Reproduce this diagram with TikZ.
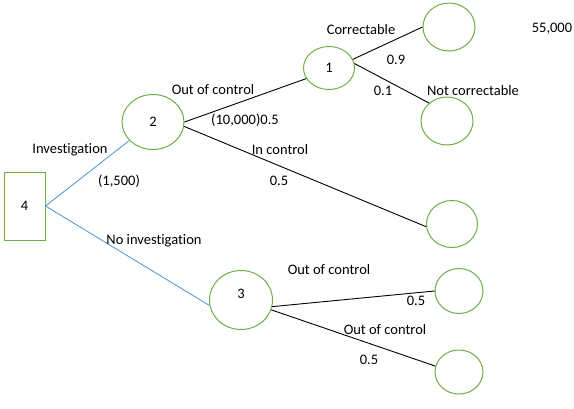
\documentclass[tikz,border=0pt]{standalone}
\usepackage{fontspec}
\setmainfont{Carlito}[Ligatures={NoCommon}]
\usetikzlibrary{shapes.geometric}
\definecolor{officegreen}{RGB}{112,173,71}
\definecolor{officeblue}{RGB}{91,155,213}
\tikzset{
    % Le style pour le noeud de decision (le rectangle)
    decision_node/.style={
        draw=officegreen,
        rectangle,
        line width=1pt,
        inner sep=0pt
    },
    % Le style pour les noeuds de hasard (les ellipses)
    chance_node/.style={
        draw=officegreen,
        ellipse,
        line width=1pt,
        inner sep=0pt
    },
    % Les branches
    choice_branch/.style={draw=officeblue, line width=0.9pt},
    event_branch/.style={draw=black, line width=0.9pt},
    branch_label/.style={inner sep=0pt}
}

\begin{document}
\begin{tikzpicture}[x=1pt, y=-1pt, font=\fontsize{14.5}{17}\selectfont]

    \useasboundingbox (0,0) rectangle (574,408);

    % --- 1. Noeud de decision ---
    \node[decision_node, minimum width=41pt, minimum height=68pt] (d4) at (24.5,206) {4};

    % --- 2. Noeuds de hasard ---
    \node[chance_node, minimum width=62pt, minimum height=55pt] (c2) at (153,122) {2};
    \node[chance_node, minimum width=63pt, minimum height=59pt, text depth=12pt] (c3) at (241,300) {3};
    \node[chance_node, minimum width=51pt, minimum height=43pt] (c1) at (329,68) {1};

    % Les issues (vides)
    \node[chance_node, minimum width=52pt, minimum height=48pt] (corr)   at (449,27)  {};
    \node[chance_node, minimum width=52pt, minimum height=48pt] (notcorr) at (447,121) {};
    \node[chance_node, minimum width=51pt, minimum height=47pt] (inctrl) at (452,224) {};
    \node[chance_node, minimum width=48pt, minimum height=45pt] (outa)   at (459,291) {};
    \node[chance_node, minimum width=48pt, minimum height=44pt] (outb)   at (459,372) {};

    % --- 3. Branches ---
    \draw[choice_branch] (d4.east) -- (c2);
    \draw[choice_branch] (d4.east) -- (c3.190);

    \draw[event_branch] (c2.east) -- (c1.205);
    \draw[event_branch] (c2.352) -- (inctrl.186);
    \draw[event_branch] (c1.20) -- (corr.west);
    \draw[event_branch] (c1.10) -- (notcorr.135);
    \draw[event_branch] (c3.348) -- (outa.west);
    \draw[event_branch] (c3.342) -- (outb.166);

    % --- 4. Etiquettes ---
    \node[branch_label] (l_inv)    at (70,150)  {Investigation};
    \node[branch_label] (l_cost)   at (119,181) {(1,500)};
    \node[branch_label] (l_noinv)  at (154,241) {No investigation};
    \node[branch_label] (l_out)    at (213,90)  {Out of control};
    \node[branch_label] (l_outp)   at (245,120) {(10,000)0.5};
    \node[branch_label] (l_corr)   at (361,30)  {Correctable};
    \node[branch_label] (l_p9)     at (396,60)  {0.9};
    \node[branch_label] (l_p1)     at (383,91)  {0.1};
    \node[branch_label] (l_notc)   at (473,91)  {Not correctable};
    \node[branch_label] (l_value)  at (552,29)  {55,000};
    \node[branch_label] (l_in)     at (280,150) {In control};
    \node[branch_label] (l_inp)    at (279,181) {0.5};
    \node[branch_label] (l_outa)   at (329,270) {Out of control};
    \node[branch_label] (l_outap)  at (416,301) {0.5};
    \node[branch_label] (l_outb)   at (385,330) {Out of control};
    \node[branch_label] (l_outbp)  at (369,360) {0.5};

\end{tikzpicture}
\end{document}
